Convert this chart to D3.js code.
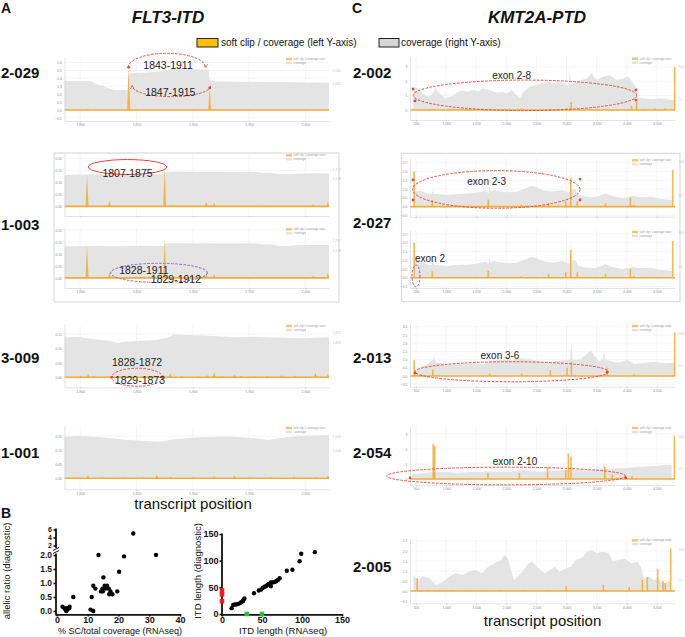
<!DOCTYPE html>
<html>
<head>
<meta charset="utf-8">
<script src="https://cdn.jsdelivr.net/npm/d3@7"></script>
<style>
  body { margin: 0; background: #fff; }
  svg { display: block; font-family: "Liberation Sans", Arial, sans-serif; }
</style>
</head>
<body>
<svg width="685" height="637"></svg>
<script>
// ---- data ----
// FLT3-ITD tracks: [transcript position, value]
const cov2029 = [[1786,1150],[1796,1150],[1804,1148],[1810,1140],[1813,1060],[1816,990],[1820,960],[1824,880],[1830,800],[1836,795],[1842,800],[1843,1450],[1848,1470],[1855,1480],[1862,1500],[1870,1530],[1876,1560],[1880,1620],[1885,1720],[1890,1680],[1895,1650],[1902,1630],[1909,1610],[1914,1600],[1915,1190],[1920,1130],[1927,1130],[1940,1120],[1950,1125],[1960,1125],[1975,1110],[1989,1100],[2005,1090],[2021,1085]];
const sc2029 = [[1807,0.015],[1843,0.54],[1915,0.28]];

const cov1003 = [[1786,1480],[1795,1500],[1805,1505],[1815,1510],[1825,1500],[1835,1495],[1845,1505],[1855,1515],[1865,1505],[1874,1505],[1876,1630],[1885,1640],[1895,1632],[1905,1625],[1915,1630],[1925,1625],[1935,1620],[1945,1630],[1955,1625],[1962,1585],[1970,1580],[1976,1520],[1985,1510],[1995,1550],[2008,1555],[2021,1550]];
const sc1003 = [[1806,0.135],[1826,0.026],[1875,0.16],[1882,0.006],[1912,0.02],[1916,0.008],[1919,0.015],[1960,0.004],[2007,0.01],[2020,0.02]];

const cov3009 = [[1786,1674],[1797,1700],[1806,1632],[1818,1561],[1827,1519],[1833,1423],[1839,1490],[1854,1532],[1868,1561],[1880,1700],[1883,1800],[1895,1771],[1919,1729],[1937,1674],[1955,1700],[1982,1658],[1996,1632],[2021,1674]];
const sc3009 = [[1792,0.004],[1800,0.006],[1807,0.012],[1812,0.005],[1827,0.006],[1835,0.004],[1848,0.006],[1856,0.004],[1866,0.005],[1874,0.009],[1880,0.014],[1890,0.005],[1905,0.004],[1913,0.007],[1919,0.018],[1926,0.005],[1937,0.009],[1943,0.006],[1955,0.004],[1966,0.005],[1979,0.008],[1991,0.006],[2000,0.004],[2009,0.016],[2020,0.013]];

const cov1001 = [[1786,1484],[1797,1509],[1808,1490],[1818,1463],[1830,1420],[1842,1366],[1855,1340],[1871,1306],[1883,1391],[1895,1430],[1907,1463],[1922,1480],[1937,1484],[1955,1427],[1967,1366],[1982,1463],[1996,1509],[2010,1530],[2021,1545]];
const sc1001 = [[1795,0.004],[1807,0.01],[1820,0.004],[1840,0.005],[1855,0.004],[1868,0.014],[1880,0.006],[1900,0.005],[1919,0.008],[1937,0.01],[1950,0.004],[1970,0.005],[1990,0.006],[2010,0.005],[2020,0.01]];

// KMT2A-PTD tracks
const cov2002 = [[455,48],[483,54],[566,46],[621,37],[704,31],[760,36],[815,50],[898,38],[981,27],[1092,32],[1175,40],[1258,45],[1368,42],[1451,47],[1534,42],[1617,50],[1728,45],[1839,40],[1922,42],[2005,38],[2088,46],[2171,34],[2226,27],[2281,42],[2392,54],[2503,58],[2614,63],[2724,65],[2779,62],[2890,65],[3001,58],[3040,60],[3056,96],[3070,60],[3167,65],[3250,69],[3333,73],[3416,85],[3499,69],[3609,77],[3720,81],[3831,69],[3941,73],[4024,78],[4107,62],[4151,54],[4180,30],[4273,27],[4439,25],[4550,27],[4661,26],[4744,23],[4804,23]];
const sc2002 = [[455,0.1],[780,0.05],[1200,0.05],[2254,0.12],[2724,0.08],[3000,0.15],[3075,0.55],[3620,0.08],[4079,0.3],[4162,0.6],[4273,0.08],[4467,0.1],[4633,0.1],[4795,3.0]];

const cov2027 = [[483,33],[566,36],[677,30],[759,27.5],[786,38.6],[800,28],[841,28],[1006,26],[1171,28],[1446,30],[1667,36],[1700,30],[1721,44],[1740,32],[1776,37],[1996,32],[2162,33],[2327,41],[2409,46],[2492,44],[2602,37],[2766,33],[2931,37],[3041,31],[3060,35],[3074,81.5],[3090,40],[3096,37],[3151,38.6],[3178,30],[3206,26],[3316,22],[3481,21],[3646,30],[3756,23.8],[3921,18.6],[4086,23.8],[4251,21],[4416,22],[4526,17.8],[4637,16.3],[4746,15]];
const sc2027 = [[470,2.0],[770,0.38],[1700,0.4],[2245,0.1],[2700,0.2],[2986,0.3],[3068,1.6],[3178,0.3],[3646,0.2],[4059,0.5],[4114,0.1],[4361,0.05],[4762,2.1]];

const cov2013 = [[472,10],[555,20],[667,26],[778,37.6],[790,45],[834,32],[890,31],[1057,26],[1224,28],[1447,29.7],[1614,28],[1781,36],[1948,37.6],[2115,39],[2283,41.5],[2450,37.6],[2617,33.6],[2729,31],[2841,36],[3008,37.6],[3060,40],[3080,76.7],[3100,40],[3119,37.6],[3231,39],[3343,53],[3398,61],[3455,49],[3537,33.6],[3600,40],[3620,61],[3640,40],[3677,37.6],[3844,31],[4012,37.6],[4122,28],[4234,29.7],[4456,33.6],[4624,29.7],[4791,31]];
const sc2013 = [[470,0.97],[778,0.4],[1724,0.15],[2255,0.15],[2729,0.35],[3008,0.5],[3080,0.87],[3677,0.5],[4122,0.1],[4795,2.65]];

const cov2054 = [[429,11.6],[677,14.7],[896,17],[1171,14.7],[1446,16.3],[1721,17.8],[1996,16.3],[2271,21],[2546,16.3],[2821,19.4],[3096,22.5],[3371,21],[3600,24],[3619,40],[3640,24],[3921,24.8],[4196,28.7],[4471,30],[4637,32.6],[4746,32.6]];
const sc2054 = [[786,2.33],[810,2.2],[1694,0.4],[2216,0.4],[2684,0.8],[2986,0.6],[3030,1.7],[3074,1.5],[3635,0.8],[3756,0.3],[4086,0.2],[4790,2.87]];

const cov2005 = [[456,38],[537,26],[618,35.7],[726,30],[833,14],[942,22],[1050,34],[1157,42],[1265,38],[1374,46],[1481,50],[1589,42],[1697,58],[1804,66],[1913,74],[1966,86],[2021,80],[2074,50],[2128,26],[2183,34],[2264,46],[2345,62],[2426,70],[2507,58],[2560,50],[2641,42],[2722,50],[2803,58],[2884,46],[2992,54],[3073,58],[3154,74],[3261,80],[3342,93.6],[3422,97.6],[3503,90],[3584,93.6],[3693,91],[3773,70],[3854,74],[3963,78],[4070,66],[4178,70],[4231,58],[4286,30],[4367,34],[4448,26],[4529,30],[4610,18],[4691,22],[4728,26]];
const sc2005 = [[520,0.64],[700,0.05],[900,0.05],[1100,0.04],[1300,0.05],[1600,0.04],[1900,0.05],[2300,0.04],[2700,0.05],[2992,0.25],[3610,0.3],[4040,0.2],[4258,0.55],[4340,0.7],[4512,1.1],[4600,0.5],[4640,0.4],[4728,2.13]];

// panel B
const scPercent = [1.8,2.5,3.0,3.0,3.4,3.9,4.1,5.3,10.9,11.3,11.8,11.8,12.5,13.5,14.3,14.8,15.1,14.9,15.5,15.9,16.3,16.8,17.0,17.4,18.0,19.6,20.2,21.8,24.8,32.2];
const allelicRatio = [0.15,0.08,0.0,0.1,0.05,0.1,0.15,0.5,0.05,0.5,0.0,0.9,0.8,2.0,0.7,0.8,1.2,0.7,0.9,0.8,0.9,0.8,0.6,0.7,0.6,0.7,1.4,1.95,5.0,2.0];
const itdRna = [12,14,16,18,20,22,24,26,27,28,40,46,49,51,53,55,57,59,61,63,61,66,68,70,72,81,88,97,99,116];
const itdDiag = [11,17,18,18,19,20,22,24,27,29,39,44,46,49,51,52,55,57,59,59,52,60,62,64,67,81,83,99,113,116];
const itdDiagOnly = [44,37,24];   // found only by diagnostics (x = 0)
const itdRnaOnly = [31,50];       // found only in RNAseq (y = 0)

const flt3Ticks = [1800,1850,1900,1950,2000];
const kmtTicks = [500,1000,1500,2000,2500,3000,3500,4000,4500];

// ---- drawing ----
const svg = d3.select("svg");
const RED = "#e8453c", PURPLE = "#8a63c9";
const ORANGE = "#f0ad35", GRAYFILL = "#e4e4e4";

svg.append("defs").append("marker").attr("id", "arr")
  .attr("viewBox", "0 0 6 6").attr("refX", 5).attr("refY", 3)
  .attr("markerWidth", 4).attr("markerHeight", 4).attr("orient", "auto")
  .append("path").attr("d", "M0,0L6,3L0,6").attr("fill", "none").attr("stroke", RED);

function label(x, y, t, size, opts = {}) {
  return svg.append("text").attr("x", x).attr("y", y).text(t)
    .attr("font-size", size)
    .attr("font-weight", opts.bold ? "bold" : null)
    .attr("font-style", opts.italic ? "italic" : null)
    .attr("text-anchor", opts.anchor || "start")
    .attr("fill", opts.fill || "#111");
}

function drawTrack(L, cov, sc, notes) {
  const g = svg.append("g");
  const x = d3.scaleLinear().domain(L.xDomain).range([L.left, L.right]);
  const y = d3.scaleLinear().domain(L.yDomain).range([L.bottom, L.top]);
  const yc = d3.scaleLinear().domain([0, L.covTop]).range([y(0), L.top]);

  g.selectAll(null).data(L.xTicks).join("line")
    .attr("x1", d => x(d)).attr("x2", d => x(d)).attr("y1", L.top).attr("y2", L.bottom)
    .attr("stroke", "#eeeeee").attr("stroke-width", 0.6);
  g.selectAll(null).data(L.yTicks).join("line")
    .attr("x1", L.left).attr("x2", L.right).attr("y1", d => y(d)).attr("y2", d => y(d))
    .attr("stroke", "#eeeeee").attr("stroke-width", 0.6);

  g.append("path").datum(cov)
    .attr("d", d3.area().x(d => x(d[0])).y0(y(0)).y1(d => yc(d[1])))
    .attr("fill", GRAYFILL);

  g.append("line").attr("x1", L.left).attr("x2", L.right).attr("y1", y(0)).attr("y2", y(0))
    .attr("stroke", ORANGE).attr("stroke-width", 1.6);
  g.selectAll(null).data(sc).join("path")
    .attr("d", d => {
      const px = x(d[0]), w = L.spikeW;
      return L.bars
        ? `M${px - w},${y(0)}V${y(d[1])}H${px + w}V${y(0)}Z`
        : `M${px - w},${y(0)}L${px},${y(d[1])}L${px + w},${y(0)}Z`;
    })
    .attr("fill", ORANGE).attr("opacity", 0.85);

  const ax = g.append("g").attr("transform", `translate(0,${L.bottom})`)
    .call(d3.axisBottom(x).tickValues(L.xTicks)
      .tickFormat(L.xLabels ? d3.format(",") : () => "")
      .tickSize(1.5).tickSizeOuter(0).tickPadding(1.5));
  const ay = g.append("g").attr("transform", `translate(${L.left},0)`)
    .call(d3.axisLeft(y).tickValues(L.yTicks).tickFormat(d3.format(L.yFmt))
      .tickSize(0).tickPadding(2.5));
  const ar = g.append("g").attr("transform", `translate(${L.right},0)`)
    .call(d3.axisRight(yc).tickValues(L.covTicks).tickFormat(d3.format(","))
      .tickSize(0).tickPadding(3.5));
  [ax, ay, ar].forEach(a => {
    a.attr("font-size", 3.4).attr("font-family", null);
    a.select(".domain").attr("stroke", "#d2d2d2").attr("stroke-width", 0.6);
    a.selectAll(".tick line").attr("stroke", "#d2d2d2");
    a.selectAll("text").attr("fill", "#8c8c8c");
  });
  ar.select(".domain").remove();
  ar.selectAll("text").attr("fill", "#c4c4c4");

  const lg = g.append("g").attr("transform", `translate(${L.right - 43},${L.top + 0.8})`);
  lg.append("rect").attr("width", 6).attr("height", 2.4).attr("fill", "#f3c56e");
  lg.append("text").attr("x", 7.5).attr("y", 2.3).attr("font-size", 3).attr("fill", "#9a9a9a")
    .text("soft clip / coverage ratio");
  lg.append("rect").attr("y", 4).attr("width", 6).attr("height", 2.4).attr("fill", "#e2e2e2");
  lg.append("text").attr("x", 7.5).attr("y", 6.3).attr("font-size", 3).attr("fill", "#9a9a9a")
    .text("coverage");

  (notes || []).forEach(n => {
    const cx = x(n.cx), cy = y(n.cy);
    if (n.kind === "ellipse" || n.kind === "arc") {
      const rx = x(n.cx + n.rx) - cx, ry = cy - y(n.cy + n.ry);
      const el = n.kind === "ellipse"
        ? g.append("ellipse").attr("cx", cx).attr("cy", cy).attr("rx", rx).attr("ry", ry)
        : g.append("path").attr("d", n.top
            ? `M${cx - rx},${cy}A${rx},${ry} 0 0 1 ${cx + rx},${cy}`
            : `M${cx + rx},${cy}A${rx},${ry} 0 0 1 ${cx - rx},${cy}`)
            .attr("marker-end", "url(#arr)");
      el.attr("fill", "none").attr("stroke", n.color).attr("stroke-width", 1)
        .attr("stroke-dasharray", n.dash ? "2.5,1.5" : null);
    } else if (n.kind === "dot") {
      g.append("circle").attr("cx", cx).attr("cy", cy).attr("r", 1.4).attr("fill", RED);
    } else if (n.kind === "text") {
      g.append("text").attr("x", cx).attr("y", cy).attr("dy", "0.35em")
        .attr("text-anchor", "middle").attr("font-size", n.size || 10)
        .attr("fill", "#222").text(n.t);
    }
  });
}

// ---- headings ----
label(1, 13, "A", 14, { bold: true });
label(352, 13, "C", 14, { bold: true });
label(168, 23, "FLT3-ITD", 17, { bold: true, italic: true, anchor: "middle" });
label(537, 23, "KMT2A-PTD", 17, { bold: true, italic: true, anchor: "middle" });

svg.append("rect").attr("x", 197).attr("y", 38.5).attr("width", 21).attr("height", 8.5)
  .attr("fill", "#ffc000").attr("stroke", "#222").attr("stroke-width", 1);
label(221, 46, "soft clip / coverage (left Y-axis)", 10);
svg.append("rect").attr("x", 379).attr("y", 38.5).attr("width", 20).attr("height", 8.5)
  .attr("fill", "#d6d6d6").attr("stroke", "#222").attr("stroke-width", 1);
label(401, 46, "coverage (right Y-axis)", 10);

// sample ids
[["2-029", 78], ["1-003", 230], ["3-009", 363], ["1-001", 458]]
  .forEach(([t, yy]) => label(1, yy, t, 15, { bold: true }));
[["2-002", 78], ["2-027", 228], ["2-013", 363], ["2-054", 458], ["2-005", 572]]
  .forEach(([t, yy]) => label(353, yy, t, 15, { bold: true }));

// frames around the paired tracks
svg.append("rect").attr("x", 54).attr("y", 153).attr("width", 285).attr("height", 149)
  .attr("fill", "none").attr("stroke", "#d4d4d4");
svg.append("rect").attr("x", 401.7).attr("y", 153.3).attr("width", 278.3).attr("height", 148.4)
  .attr("fill", "none").attr("stroke", "#d4d4d4");

// ---- FLT3 tracks ----
const flt = { left: 64.5, right: 329, xDomain: [1786, 2021], xTicks: flt3Ticks, spikeW: 1.5, bars: false };
drawTrack({ ...flt, top: 57, bottom: 121, yDomain: [-0.139, 0.671], yTicks: [-0.1,0,0.1,0.2,0.3,0.4,0.5,0.6],
  yFmt: ".1f", covTop: 2106, covTicks: [1562, 1041], xLabels: true }, cov2029, sc2029, [
  { kind: "arc", cx: 1877, cy: 0.538, rx: 34.4, ry: 0.18, color: RED, dash: true, top: true },
  { kind: "arc", cx: 1881, cy: 0.304, rx: 34.8, ry: 0.135, color: RED, dash: true, top: false },
  { kind: "dot", cx: 1843, cy: 0.54 }, { kind: "dot", cx: 1915, cy: 0.28 },
  { kind: "text", cx: 1878, cy: 0.57, t: "1843-1911", size: 10.5 },
  { kind: "text", cx: 1880, cy: 0.22, t: "1847-1915", size: 10.5 }
]);
drawTrack({ ...flt, top: 153.3, bottom: 216, yDomain: [-0.040, 0.221], yTicks: [0,0.05,0.1,0.15,0.2],
  yFmt: ".2f", covTop: 2496, covTicks: [1757, 1318], xLabels: false }, cov1003, sc1003, [
  { kind: "ellipse", cx: 1842, cy: 0.164, rx: 34.8, ry: 0.031, color: RED, dash: false },
  { kind: "text", cx: 1842, cy: 0.139, t: "1807-1875", size: 10.5 }
]);
drawTrack({ ...flt, top: 227.3, bottom: 288, yDomain: [-0.042, 0.211], yTicks: [0,0.05,0.1,0.15,0.2],
  yFmt: ".2f", covTop: 2388, covTicks: [1757, 1318], xLabels: true }, cov1003, sc1003, [
  { kind: "ellipse", cx: 1870, cy: 0.021, rx: 42.9, ry: 0.04, color: PURPLE, dash: true },
  { kind: "text", cx: 1856.5, cy: 0.033, t: "1828-1911", size: 10.5 },
  { kind: "text", cx: 1885, cy: -0.004, t: "1829-1912", size: 10.5 }
]);
drawTrack({ ...flt, top: 324, bottom: 387.3, yDomain: [-0.035, 0.186], yTicks: [0,0.05,0.1,0.15],
  yFmt: ".2f", covTop: 2231, covTicks: [1871, 1459], xLabels: true }, cov3009, sc3009, [
  { kind: "ellipse", cx: 1850.5, cy: 0, rx: 22.7, ry: 0.0315, color: RED, dash: true },
  { kind: "dot", cx: 1828, cy: 0 }, { kind: "dot", cx: 1873, cy: 0 },
  { kind: "text", cx: 1850.5, cy: 0.0535, t: "1828-1872", size: 10.5 },
  { kind: "text", cx: 1853, cy: -0.0094, t: "1829-1873", size: 10.5 }
]);
drawTrack({ ...flt, top: 426, bottom: 489.3, yDomain: [-0.039, 0.1855], yTicks: [0,0.05,0.1,0.15],
  yFmt: ".2f", covTop: 1866, covTicks: [1509, 1006], xLabels: true }, cov1001, sc1001, []);

label(193, 509, "transcript position", 15, { anchor: "middle" });

// ---- KMT2A tracks ----
const kmt = { left: 410, right: 675, xDomain: [400, 4800], xTicks: kmtTicks, spikeW: 0.8, bars: true };
drawTrack({ ...kmt, top: 56.7, bottom: 120, yDomain: [-0.69, 3.70], yTicks: [0,1,2,3], yFmt: "d",
  covTop: 123, covTicks: [100, 25], xLabels: true }, cov2002, sc2002, [
  { kind: "ellipse", cx: 2309, cy: 1.02, rx: 1855, ry: 1.06, color: RED, dash: true },
  { kind: "dot", cx: 450, cy: 1.46 }, { kind: "dot", cx: 483, cy: 0.63 },
  { kind: "dot", cx: 4152, cy: 1.39 }, { kind: "dot", cx: 4152, cy: 0.69 },
  { kind: "text", cx: 2089, cy: 2.43, t: "exon 2-8" }
]);
drawTrack({ ...kmt, top: 158.3, bottom: 216.7, yDomain: [-0.57, 2.75], yTicks: [-0.5,0,0.5,1,1.5,2,2.5],
  yFmt: ".1f", covTop: 107.6, covTicks: [100, 25], xLabels: false }, cov2027, sc2027, [
  { kind: "ellipse", cx: 1833, cy: 0.98, rx: 1390, ry: 1.07, color: RED, dash: true },
  { kind: "dot", cx: 450, cy: 1.52 }, { kind: "dot", cx: 450, cy: 0.38 },
  { kind: "dot", cx: 3223, cy: 1.57 }, { kind: "dot", cx: 3223, cy: 0.38 },
  { kind: "text", cx: 1674, cy: 1.42, t: "exon 2-3" }
]);
drawTrack({ ...kmt, top: 230, bottom: 288, yDomain: [-0.59, 2.73], yTicks: [-0.5,0,0.5,1,1.5,2,2.5],
  yFmt: ".1f", covTop: 106, covTicks: [100, 25], xLabels: true }, cov2027, sc2027, [
  { kind: "ellipse", cx: 500, cy: 0.1, rx: 66, ry: 0.63, color: PURPLE, dash: true },
  { kind: "text", cx: 732, cy: 1.11, t: "exon 2" }
]);
drawTrack({ ...kmt, top: 324, bottom: 386.7, yDomain: [-0.65, 3.17], yTicks: [-0.5,0,0.5,1,1.5,2,2.5,3],
  yFmt: ".1f", covTop: 122, covTicks: [100, 25], xLabels: true }, cov2013, sc2013, [
  { kind: "ellipse", cx: 2089, cy: 0.26, rx: 1606, ry: 0.61, color: RED, dash: true },
  { kind: "dot", cx: 483, cy: 0.18 }, { kind: "dot", cx: 3671, cy: 0.24 },
  { kind: "text", cx: 1894, cy: 1.24, t: "exon 3-6" }
]);
drawTrack({ ...kmt, top: 426, bottom: 485, yDomain: [-0.4, 3.53], yTicks: [0,1,2,3], yFmt: "d",
  covTop: 123, covTicks: [100, 25], xLabels: true }, cov2054, sc2054, [
  { kind: "ellipse", cx: 1997, cy: 0.2, rx: 1984, ry: 0.59, color: RED, dash: true },
  { kind: "dot", cx: 400, cy: 0.07 }, { kind: "dot", cx: 3985, cy: 0.07 },
  { kind: "text", cx: 2143, cy: 1.15, t: "exon 2-10" }
]);
drawTrack({ ...kmt, top: 538.3, bottom: 603.3, yDomain: [-0.615, 2.63], yTicks: [-0.5,0,0.5,1,1.5,2,2.5],
  yFmt: ".1f", covTop: 125.5, covTicks: [100, 25], xLabels: true }, cov2005, sc2005, []);

label(542.5, 626, "transcript position", 15, { anchor: "middle" });

// ---- panel B ----
label(1, 518, "B", 14, { bold: true });

function styleAxis(a, size) {
  a.attr("font-size", size || 9).attr("font-family", null).attr("font-weight", "bold");
  a.select(".domain").remove();
  a.selectAll(".tick line").attr("stroke", "#111").attr("stroke-width", 1.6);
  a.selectAll("text").attr("fill", "#111");
}
function axisLine(x1, y1, x2, y2) {
  svg.append("line").attr("x1", x1).attr("y1", y1).attr("x2", x2).attr("y2", y2)
    .attr("stroke", "#111").attr("stroke-width", 1.8);
}

// left scatter, broken y axis
const bx = d3.scaleLinear().domain([0, 40]).range([57, 180]);
const byLo = d3.scaleLinear().domain([0, 2]).range([611, 555]);
const byHi = d3.scaleLinear().domain([2, 6]).range([545.5, 529.5]);
const byVal = v => (v <= 2.05 ? byLo(v) : byHi(v));

styleAxis(svg.append("g").attr("transform", "translate(0,614)")
  .call(d3.axisBottom(bx).tickValues([0, 10, 20, 30, 40]).tickSize(2.5).tickSizeOuter(0).tickPadding(0.5)));
styleAxis(svg.append("g").attr("transform", "translate(56,0)")
  .call(d3.axisLeft(byLo).tickValues([0, 0.5, 1, 1.5, 2]).tickFormat(d3.format(".1f"))
    .tickSize(2.5).tickSizeOuter(0).tickPadding(1.5)), 8.5);
styleAxis(svg.append("g").attr("transform", "translate(56,0)")
  .call(d3.axisLeft(byHi).tickValues([2, 4, 6]).tickFormat(d3.format("d"))
    .tickSize(2.5).tickSizeOuter(0).tickPadding(1.5)), 7);
axisLine(56, 614.9, 181, 614.9);
axisLine(56, 615.5, 56, 553.5);
axisLine(56, 548, 56, 528.5);
svg.append("path").attr("d", "M53,553.5L59,550.5M53,550.5L59,547.5")
  .attr("stroke", "#111").attr("stroke-width", 1);

svg.append("g").selectAll("circle").data(scPercent).join("circle")
  .attr("cx", d => bx(d)).attr("cy", (d, i) => byVal(allelicRatio[i])).attr("r", 2.2).attr("fill", "#000");

label(120, 633.5, "% SC/total coverage (RNAseq)", 9, { anchor: "middle" });
svg.append("text").attr("transform", "translate(10,571) rotate(-90)").attr("text-anchor", "middle")
  .attr("font-size", 9.5).attr("fill", "#111").text("allelic ratio (diagnostic)");

// right scatter
const rx = d3.scaleLinear().domain([0, 150]).range([222, 342]);
const ry = d3.scaleLinear().domain([0, 150]).range([614, 534]);
styleAxis(svg.append("g").attr("transform", "translate(0,614)")
  .call(d3.axisBottom(rx).tickValues([0, 50, 100, 150]).tickSize(2.5).tickSizeOuter(0).tickPadding(0.5)));
styleAxis(svg.append("g").attr("transform", "translate(222,0)")
  .call(d3.axisLeft(ry).tickValues([0, 50, 100, 150]).tickSize(2.5).tickSizeOuter(0).tickPadding(1)));
axisLine(221.1, 614.9, 343, 614.9);
axisLine(222, 615.5, 222, 533.5);

svg.append("g").selectAll("circle").data(itdRna).join("circle")
  .attr("cx", d => rx(d)).attr("cy", (d, i) => ry(itdDiag[i])).attr("r", 2.2).attr("fill", "#000");
svg.append("g").selectAll("rect").data(itdDiagOnly).join("rect")
  .attr("x", rx(0) - 2.3).attr("y", d => ry(d) - 2.3).attr("width", 4.6).attr("height", 4.6).attr("fill", "#ee1c1c");
svg.append("g").selectAll("rect").data(itdRnaOnly).join("rect")
  .attr("x", d => rx(d) - 2.3).attr("y", ry(0) - 2.3).attr("width", 4.6).attr("height", 4.6).attr("fill", "#22c33a");

label(283, 633.5, "ITD length (RNAseq)", 9.5, { anchor: "middle" });
svg.append("text").attr("transform", "translate(201,571) rotate(-90)").attr("text-anchor", "middle")
  .attr("font-size", 9.5).attr("fill", "#111").text("ITD length (diagnostic)");
</script>
</body>
</html>
